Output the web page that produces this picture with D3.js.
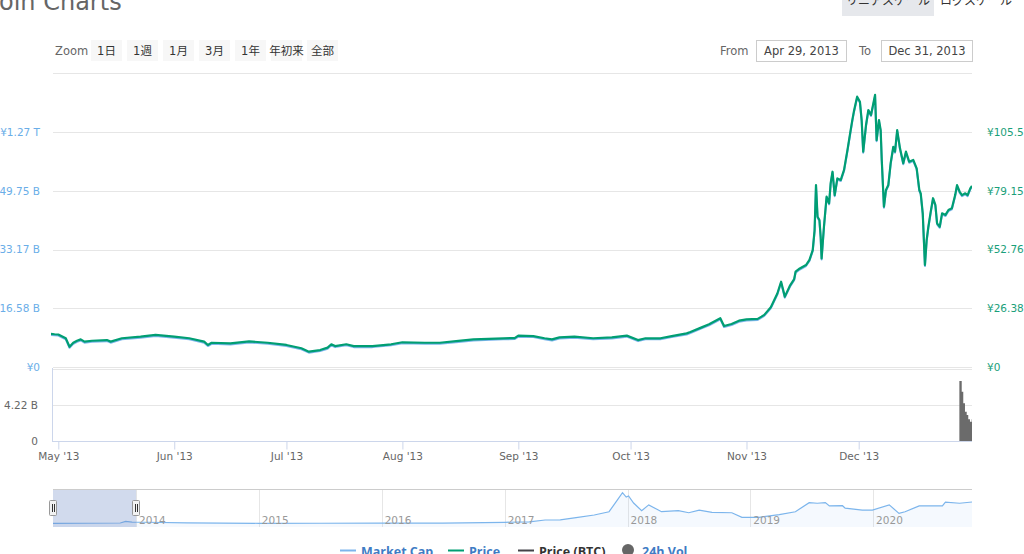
<!DOCTYPE html>
<html><head><meta charset="utf-8">
<script src="https://cdnjs.cloudflare.com/ajax/libs/d3/7.8.5/d3.min.js"></script>
<style>
html,body{margin:0;padding:0;background:#fff;overflow:hidden}
svg{display:block}
text{font-family:"DejaVu Sans","Noto Sans CJK JP",sans-serif}
</style></head><body>
<svg id="c" width="1024" height="554"></svg>
<script>
// ---------------- data ----------------
const priceDates = [
"2013-04-29","2013-04-30","2013-05-01","2013-05-03","2013-05-04","2013-05-05","2013-05-06","2013-05-07","2013-05-08","2013-05-10",
"2013-05-14","2013-05-15","2013-05-18","2013-05-23","2013-05-27","2013-06-01","2013-06-05","2013-06-09","2013-06-10","2013-06-11",
"2013-06-16","2013-06-21","2013-06-26","2013-07-01","2013-07-05","2013-07-07","2013-07-10","2013-07-12","2013-07-13","2013-07-14",
"2013-07-17","2013-07-19","2013-07-24","2013-07-29","2013-08-01","2013-08-07","2013-08-11","2013-08-16","2013-08-20","2013-08-28",
"2013-08-31","2013-09-01","2013-09-05","2013-09-08","2013-09-10","2013-09-12","2013-09-16","2013-09-21","2013-09-26","2013-09-30",
"2013-10-03","2013-10-05","2013-10-09","2013-10-12","2013-10-16","2013-10-17","2013-10-20","2013-10-22","2013-10-25","2013-10-26",
"2013-10-28","2013-10-30",
"2013-11-01","2013-11-04","2013-11-05","2013-11-05T18","2013-11-07T12","2013-11-09T06","2013-11-10T06","2013-11-11T06","2013-11-12T14","2013-11-13T18",
"2013-11-14T03","2013-11-15","2013-11-16T22","2013-11-17T20","2013-11-18T17","2013-11-19T05","2013-11-19T14","2013-11-20","2013-11-20T12","2013-11-20T20",
"2013-11-21T02","2013-11-21T17","2013-11-22T10","2013-11-23T02","2013-11-23T12","2013-11-24","2013-11-24T14","2013-11-25T07","2013-11-26T05","2013-11-27T02",
"2013-11-28","2013-11-28T17","2013-11-29T07","2013-11-29T17","2013-11-30T14",
"2013-12-01T08","2013-12-01T19","2013-12-02T05","2013-12-02T23","2013-12-03T14","2013-12-04T07","2013-12-05T09","2013-12-05T19","2013-12-06T10","2013-12-06T21",
"2013-12-07T04","2013-12-07T18","2013-12-08T07","2013-12-08T22","2013-12-09T13","2013-12-10T06","2013-12-10T17","2013-12-11T07","2013-12-12T01","2013-12-12T22",
"2013-12-13T15","2013-12-14T12","2013-12-15T14","2013-12-16T12","2013-12-17T05","2013-12-17T14","2013-12-18T03","2013-12-18T17","2013-12-19T04","2013-12-19T15",
"2013-12-20T06","2013-12-20T21","2013-12-21T12","2013-12-21T23","2013-12-22T16","2013-12-23T07","2013-12-24T05","2013-12-25","2013-12-25T22","2013-12-26T19",
"2013-12-27T07","2013-12-28","2013-12-28T15","2013-12-29T12","2013-12-30T03","2013-12-30T20","2013-12-31T07"
];
// Price (JPY)
const priceValues = [
14.9,14.7,14.6,12.9,9.1,10.9,11.8,12.4,11.4,11.8,
12.1,11.4,12.9,13.6,14.4,13.6,12.9,11.4,9.9,10.9,
10.6,11.5,10.9,9.9,8.4,6.9,7.6,8.7,10.2,9.4,
10.2,9.4,9.4,10.2,11.1,10.9,10.9,11.7,12.4,12.9,
13.0,14.1,13.9,12.9,12.4,13.3,13.6,12.9,13.3,14.1,
12.1,12.9,12.9,13.9,15.1,15.7,17.8,19.2,21.9,18.4,
19.3,20.8,
21.4,21.6,22.6,23.4,26.8,33.0,38.3,31.6,36.4,39.5,
42.8,44.0,45.8,48.1,52.5,61.5,81.7,67.5,66.0,58.5,
48.8,63.0,76.5,73.5,82.5,87.7,77.2,84.7,84.0,88.5,
97.5,104.9,110.9,114.7,121.4,
119.1,110.9,96.7,108.7,115.4,113.2,122.2,101.9,110.9,106.4,
93.0,72.0,79.5,81.7,91.5,98.9,96.7,106.4,98.2,91.5,
96.7,92.2,93.0,89.2,79.5,78.0,69.0,45.8,57.0,63.0,
69.7,75.8,72.8,64.5,63.0,69.0,68.3,70.5,71.3,77.2,
81.7,78.7,77.2,78.0,77.2,80.2,81.3
];
// Market Cap (billion JPY)
const marketCapValues = [
9.06,8.94,8.88,7.81,5.42,6.55,7.12,7.49,6.86,7.12,
7.30,6.86,7.81,8.25,8.75,8.25,7.81,6.86,5.92,6.55,
6.36,6.93,6.55,5.92,4.98,4.04,4.48,5.17,6.11,5.61,
6.11,5.61,5.61,6.11,6.68,6.55,6.55,7.05,7.49,7.81,
7.87,8.56,8.44,7.81,7.49,8.06,8.25,7.81,8.06,8.56,
7.30,7.81,7.81,8.44,9.19,9.57,10.89,11.77,13.46,11.26,
11.83,12.77,
13.15,13.28,13.90,14.41,16.54,20.44,23.77,19.56,22.58,24.53,
26.60,27.35,28.49,29.93,32.70,38.35,51.05,42.12,41.18,36.47,
30.37,39.30,47.78,45.90,51.55,54.82,48.22,52.93,52.49,55.32,
60.98,65.63,69.40,71.79,76.00,
74.55,69.40,60.48,68.02,72.23,70.85,76.50,63.74,69.40,66.57,
58.15,44.95,49.67,51.05,57.21,61.86,60.48,66.57,61.42,57.21,
60.48,57.65,58.15,55.76,49.67,48.72,43.07,28.49,35.52,39.30,
43.51,47.34,45.45,40.24,39.30,43.07,42.63,44.01,44.51,48.22,
51.05,49.16,48.22,48.72,48.22,50.11,50.80
];
// 24h Vol (billion JPY)
const volumeDates = ["2013-12-27T22","2013-12-28T13","2013-12-28T23","2013-12-29T10","2013-12-29T21","2013-12-30T07","2013-12-30T18","2013-12-31T05"];
const volumeValues = [7.03,5.78,4.42,3.43,3.05,2.54,2.26,2.54];

// navigator (market cap, full history)
const navDates = [
"2013-04-29","2013-11-15","2013-12-01","2013-12-20","2014-01-31","2014-06-01","2015-01-01","2015-07-01","2016-01-01","2016-07-01",
"2017-01-01","2017-03-15","2017-05-01","2017-06-15","2017-08-01","2017-09-24","2017-11-07","2017-12-02","2017-12-17","2017-12-28",
"2018-01-04","2018-01-19","2018-02-12","2018-03-05","2018-04-12","2018-06-01","2018-07-02","2018-08-02","2018-09-09","2018-11-07",
"2018-12-07","2019-01-27","2019-03-28","2019-05-15","2019-06-25","2019-07-19","2019-08-12","2019-08-24","2019-10-02","2019-10-10",
"2019-11-30","2019-12-30","2020-02-18","2020-03-18","2020-04-05","2020-05-17","2020-07-25","2020-08-03","2020-09-14","2020-10-21"
];
const navValues = [
5,12,50,35,30,15,5,6,7,9,
29,40,85,90,140,205,285,570,745,640,
665,495,310,450,285,310,260,325,270,260,
150,150,213,285,505,490,505,425,430,370,
325,325,450,245,285,425,425,515,490,520
];

const priceTicks = [0, 26.38, 52.76, 79.15, 105.5, 131.9];
const priceTickLabels = ["¥0", "¥26.38", "¥52.76", "¥79.15", "¥105.5", ""];
const mcapTicks = [0, 16.58, 33.17, 49.75, 66.33, 82.9];
const mcapTickLabels = ["¥0", "¥16.58 B", "¥33.17 B", "¥49.75 B", "¥1.27 T", ""];
const volTicks = [0, 4.22, 8.44];
const volTickLabels = ["0", "4.22 B", ""];
const monthTicks = ["2013-05-01","2013-06-01","2013-07-01","2013-08-01","2013-09-01","2013-10-01","2013-11-01","2013-12-01"];
const navYearTicks = ["2014-01-01","2015-01-01","2016-01-01","2017-01-01","2018-01-01","2019-01-01","2020-01-01"];
const zoomButtons = ["1日","1週","1月","3月","1年","年初来","全部"];
const scaleButtons = ["リニアスケール","ログスケール"];
const rangeFrom = "2013-04-29", rangeTo = "2014-01-01";
const rangeLabels = ["Apr 29, 2013", "Dec 31, 2013"];
const legendNames = ["Market Cap", "Price", "Price (BTC)", "24h Vol"];
const titleText = "oin Charts";

// ---------------- helpers ----------------
const pH = d3.utcParse("%Y-%m-%dT%H"), pD = d3.utcParse("%Y-%m-%d");
const parse = s => s.length > 10 ? pH(s) : pD(s);

const svg = d3.select("#c");
svg.append("rect").attr("width",1024).attr("height",554).attr("fill","#fff");

const L = 53, R = 972;
const x = d3.scaleUtc().domain([parse("2013-05-01"), parse("2013-12-01")]).range([58.3, 858.7]);
const yPrice = d3.scaleLinear().domain([0, 131.9]).range([367, 73.3]);
const yMcap = d3.scaleLinear().domain([0, 82.9]).range([367, 73.3]);
const yVol = d3.scaleLinear().domain([0, 8.44]).range([441, 369]);

// title
svg.append("text").attr("x", -1).attr("y", 10).attr("font-size", 24).attr("fill", "#666").text(titleText);

// scale buttons
svg.append("rect").attr("x", 842).attr("y", -10).attr("width", 92).attr("height", 26).attr("fill", "#e6e8ec");
svg.selectAll("text.sb").data(scaleButtons).join("text").attr("class","sb")
  .attr("x", (d,i) => i === 0 ? 888 : 976).attr("y", 4.5).attr("text-anchor","middle")
  .attr("font-size", 12).attr("fill", "#333").text(d => d);

// zoom row
svg.append("text").attr("x", 55).attr("y", 54.5).attr("font-size", 11.5).attr("fill", "#666").text("Zoom");
const zb = svg.selectAll("g.zb").data(zoomButtons).join("g").attr("class","zb")
  .attr("transform", (d,i) => `translate(${91 + i*36},40)`);
zb.append("rect").attr("width", 31).attr("height", 21).attr("fill", "#f7f7f7");
zb.append("text").attr("x", 15.5).attr("y", 14.5).attr("text-anchor","middle").attr("font-size", 11.5).attr("fill","#333").text(d => d);

// range inputs
svg.append("text").attr("x", 720).attr("y", 54.5).attr("font-size", 11.5).attr("fill", "#666").text("From");
svg.append("text").attr("x", 859).attr("y", 54.5).attr("font-size", 11.5).attr("fill", "#666").text("To");
[[756.5, 90], [881.5, 91]].forEach((b, i) => {
  svg.append("rect").attr("x", b[0]).attr("y", 40.5).attr("width", b[1]).attr("height", 21)
    .attr("fill", "#fff").attr("stroke", "#ccc");
  svg.append("text").attr("x", b[0] + b[1]/2).attr("y", 54.5).attr("text-anchor","middle")
    .attr("font-size", 11.5).attr("fill", "#444").text(rangeLabels[i]);
});

// grid lines (price pane)
svg.append("g").selectAll("line").data(priceTicks).join("line")
  .attr("x1", L).attr("x2", R).attr("y1", d => Math.round(yPrice(d)) + 0.5).attr("y2", d => Math.round(yPrice(d)) + 0.5)
  .attr("stroke", "#e6e6e6");
// grid lines (volume pane)
svg.append("g").selectAll("line").data(volTicks.slice(1)).join("line")
  .attr("x1", L).attr("x2", R).attr("y1", d => Math.round(yVol(d)) + 0.5).attr("y2", d => Math.round(yVol(d)) + 0.5)
  .attr("stroke", "#e6e6e6");

// axes labels
function styleAxis(g, color, size) {
  g.select(".domain").remove();
  g.selectAll(".tick line").remove();
  g.selectAll("text").attr("fill", color).attr("font-size", size).attr("font-family", null);
}
svg.append("g").attr("transform", "translate(40,0)")
  .call(d3.axisLeft(yMcap).tickValues(mcapTicks).tickFormat((d,i) => mcapTickLabels[i]).tickSize(0).tickPadding(0))
  .call(g => styleAxis(g, "#6aaee8", 10.5));
svg.append("g").attr("transform", "translate(987,0)")
  .call(d3.axisRight(yPrice).tickValues(priceTicks).tickFormat((d,i) => priceTickLabels[i]).tickSize(0).tickPadding(0))
  .call(g => styleAxis(g, "#1aa07a", 10.5));
svg.append("g").attr("transform", "translate(38,0)")
  .call(d3.axisLeft(yVol).tickValues(volTicks).tickFormat((d,i) => volTickLabels[i]).tickSize(0).tickPadding(0))
  .call(g => styleAxis(g, "#666", 10.5));

// x axis
const xa = svg.append("g").attr("transform", "translate(0,441.5)")
  .call(d3.axisBottom(x).tickValues(monthTicks.map(parse)).tickFormat(d3.utcFormat("%b '%y")).tickSize(8).tickPadding(3));
xa.select(".domain").remove();
xa.selectAll(".tick line").attr("stroke", "#ccd6eb");
xa.selectAll("text").attr("fill", "#666").attr("font-size", 10.5).attr("font-family", null);
svg.append("line").attr("x1", 52).attr("x2", R).attr("y1", 441.5).attr("y2", 441.5).attr("stroke", "#ccd6eb");
svg.append("line").attr("x1", 52.5).attr("x2", 52.5).attr("y1", 368).attr("y2", 442).attr("stroke", "#ccd6eb");

// clip
svg.append("clipPath").attr("id", "clip").append("rect").attr("x", L - 2).attr("y", 70).attr("width", R - L + 2).attr("height", 300);

const pts = priceDates.map((d, i) => ({ t: parse(d), p: priceValues[i], m: marketCapValues[i] }));
const plot = svg.append("g").attr("clip-path", "url(#clip)");
plot.append("path").datum(pts)
  .attr("d", d3.line().x(d => x(d.t)).y(d => yMcap(d.m)))
  .attr("fill", "none").attr("stroke", "#7cb5ec").attr("stroke-width", 2).attr("stroke-linejoin", "round");
plot.append("path").datum(pts)
  .attr("d", d3.line().x(d => x(d.t)).y(d => yPrice(d.p)))
  .attr("fill", "none").attr("stroke", "#009e73").attr("stroke-width", 2.2).attr("stroke-linejoin", "round");

// volume columns (contiguous, as a stepped area up to the plot edge)
const vol = volumeDates.map((d, i) => ({ t: parse(d), v: volumeValues[i] }));
const volEnd = vol.concat([{ t: x.invert(R), v: volumeValues[volumeValues.length - 1] }]);
svg.append("path").datum(volEnd)
  .attr("d", d3.area().curve(d3.curveStepAfter).x(d => x(d.t)).y0(yVol(0)).y1(d => yVol(d.v)))
  .attr("fill", "#6b6b6b");

// ---------------- navigator ----------------
const nTop = 489, nBot = 527;
const nx = d3.scaleUtc().domain([parse("2013-04-29"), parse("2020-10-21")]).range([L, R]);
const ny = d3.scaleLinear().domain([0, 750]).range([523.5, 492.5]);
const nav = svg.append("g");
nav.selectAll("line.g").data(navYearTicks.map(parse)).join("line").attr("class","g")
  .attr("x1", d => Math.round(nx(d)) + 0.5).attr("x2", d => Math.round(nx(d)) + 0.5)
  .attr("y1", nTop).attr("y2", nBot).attr("stroke", "#e6e6e6");
const nd = navDates.map((d, i) => ({ t: parse(d), v: navValues[i] }));
nav.append("path").datum(nd)
  .attr("d", d3.area().x(d => nx(d.t)).y0(nBot).y1(d => ny(d.v)))
  .attr("fill", "rgba(124,181,236,0.08)");
nav.append("path").datum(nd)
  .attr("d", d3.line().x(d => nx(d.t)).y(d => ny(d.v)))
  .attr("fill", "none").attr("stroke", "#7cb5ec").attr("stroke-width", 1.2);
nav.selectAll("text").data(navYearTicks.map(parse)).join("text")
  .attr("x", d => nx(d) + 3).attr("y", 524).attr("font-size", 10.5).attr("fill", "#999")
  .text(d3.utcFormat("%Y"));
const m0 = nx(parse(rangeFrom)), m1 = nx(parse(rangeTo));
nav.append("rect").attr("x", m0).attr("y", nTop).attr("width", m1 - m0).attr("height", nBot - nTop)
  .attr("fill", "rgba(102,133,194,0.3)");
nav.append("line").attr("x1", L).attr("x2", R).attr("y1", nTop + 0.5).attr("y2", nTop + 0.5).attr("stroke", "#cccccc");
[m0, m1].forEach(h => {
  const g = nav.append("g").attr("transform", `translate(${Math.round(h)},0)`);
  g.append("rect").attr("x", -3.5).attr("y", 500.5).attr("width", 7).attr("height", 15).attr("rx", 1)
    .attr("fill", "#f2f2f2").attr("stroke", "#999");
  [-1, 1].forEach(o => g.append("line").attr("x1", o + 0.5).attr("x2", o + 0.5).attr("y1", 504).attr("y2", 512).attr("stroke", "#333"));
});

// ---------------- legend ----------------
const legendColors = ["#7cb5ec", "#009e73", "#434348", "#666666"];
const legendText = ["#3f7cc4", "#3f7cc4", "#333333", "#3f7cc4"];
const legendX = [340, 448, 518, 622];
legendNames.forEach((name, i) => {
  const g = svg.append("g").attr("transform", `translate(${legendX[i]},0)`);
  if (i === 3) g.append("circle").attr("cx", 6).attr("cy", 550).attr("r", 6).attr("fill", legendColors[i]);
  else g.append("line").attr("x1", 0).attr("x2", 16).attr("y1", 550.5).attr("y2", 550.5).attr("stroke", legendColors[i]).attr("stroke-width", 2);
  g.append("text").attr("x", i === 3 ? 20 : 21).attr("y", 556).attr("font-size", 12.5).attr("font-weight", "bold")
    .style("font-family", "'Open Sans', sans-serif")
    .attr("fill", legendText[i]).text(name);
});
</script>
</body></html>
